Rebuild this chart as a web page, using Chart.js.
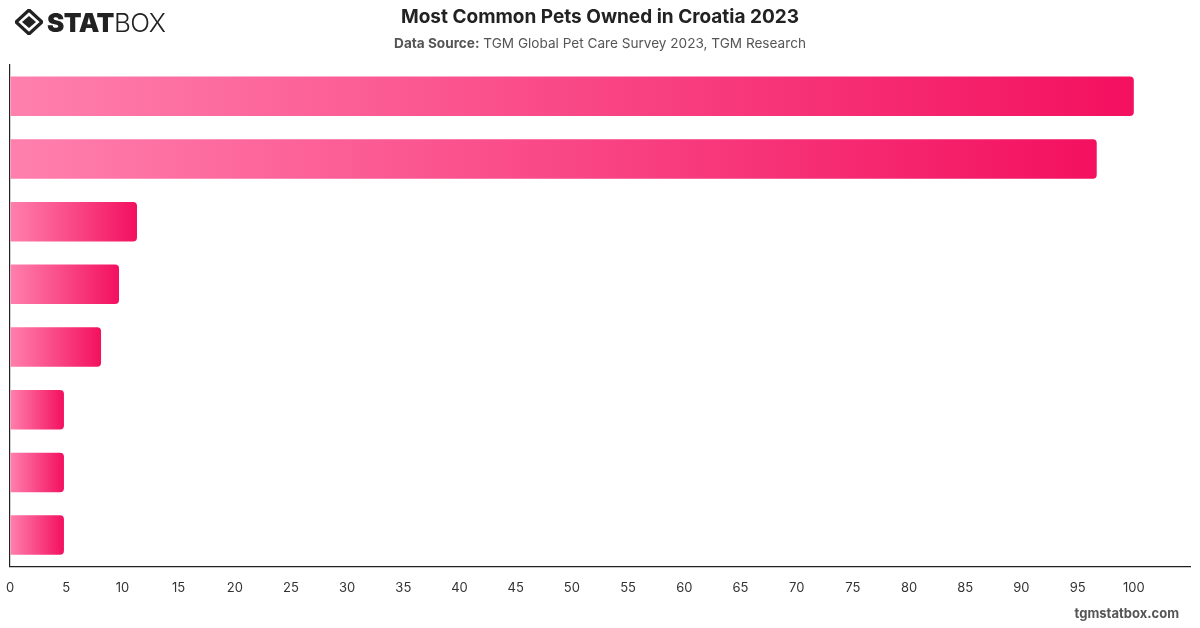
<!DOCTYPE html>
<html>
<head>
<meta charset="utf-8">
<script src="https://cdn.jsdelivr.net/npm/chart.js@4.4.0/dist/chart.umd.min.js"></script>
<style>
  body { margin: 0; width: 1200px; height: 628px; background: #fff; font-family: Inter, "Liberation Sans", sans-serif; overflow: hidden; }
  #wrap { position: absolute; left: 0; top: 0; width: 1200px; height: 628px; }
  .title { position: absolute; top: 5px; left: 0; width: 1200px; text-align: center; font-size: 19px; font-weight: 700; color: #222; }
  .sub { position: absolute; top: 35px; left: 0; width: 1200px; text-align: center; font-size: 13.6px; color: #555; }
  .sub b { color: #555; }
  .logo { position: absolute; left: 15px; top: 7px; height: 30px; display: flex; align-items: center; }
  .logo .t1 { font-size: 26px; font-weight: 900; color: #222; letter-spacing: -0.5px; margin-left: 4px; }
  .logo .t2 { font-size: 26px; font-weight: 300; color: #222; letter-spacing: -0.5px; }
  .foot { position: absolute; right: 21px; top: 605px; font-size: 13px; font-weight: 700; color: #555; }
</style>
</head>
<body>
<div id="wrap"><canvas id="chart" width="1200" height="628"></canvas></div>
<div class="logo">
  <svg width="28" height="26" viewBox="0 0 28 26">
    <polygon points="14,1 27,13 14,25 1,13" fill="none" stroke="#222" stroke-width="3.2"/>
    <polygon points="14,7 21,13 14,19 7,13" fill="#222"/>
  </svg>
  <span class="t1">STAT</span><span class="t2">BOX</span>
</div>
<div class="title">Most Common Pets Owned in Croatia 2023</div>
<div class="sub"><b>Data Source:</b> TGM Global Pet Care Survey 2023, TGM Research</div>
<div class="foot">tgmstatbox.com</div>
<script>
// values (category labels are not shown in it)
let pets = ['Dog', 'Cat', 'Fish', 'Bird', 'Rabbit', 'Hamster', 'Turtle', 'Other'];
let shares = [100, 96.7, 11.3, 9.7, 8.1, 4.8, 4.8, 4.8];
let xTicksMax = 100;

function barGradient(context) {
  var chart = context.chart;
  var xs = chart.scales.x;
  if (!xs || !chart.chartArea) {
    return '#f7438a';
  }
  var x0 = xs.getPixelForValue(0);
  var x1 = xs.getPixelForValue(context.raw);
  if (!isFinite(x1) || x1 - x0 < 1) {
    return '#f7438a';
  }
  var g = chart.ctx.createLinearGradient(x0, 0, x1, 0);
  g.addColorStop(0, '#ff80ad');
  g.addColorStop(1, '#f3105f');
  return g;
}

var ctx = document.getElementById('chart').getContext('2d');
var myChart = new Chart(ctx, {
  type: 'bar',
  data: {
    labels: pets,
    datasets: [{
      data: shares,
      backgroundColor: barGradient,
      borderRadius: 4,
      borderSkipped: 'start',
      categoryPercentage: 0.7,
      barPercentage: 0.9
    }]
  },
  options: {
    indexAxis: 'y',
    responsive: false,
    animation: false,
    layout: { padding: { top: 65, left: 10, right: 10, bottom: 29 } },
    plugins: { legend: { display: false }, tooltip: { enabled: false } },
    scales: {
      x: {
        min: 0,
        max: 105,
        grid: { display: true, color: 'rgba(0,0,0,0)', drawTicks: true, tickLength: 11, tickColor: 'rgba(0,0,0,0)' },
        border: { display: true, color: '#222', width: 1.2 },
        ticks: {
          stepSize: 5,
          padding: 3,
          color: '#333',
          font: { family: 'Inter', size: 13 },
          callback: function(v) { return v > xTicksMax ? '' : v; }
        }
      },
      y: {
        grid: { display: true, color: 'rgba(0,0,0,0)', drawTicks: false },
        border: { display: true, color: '#222', width: 1.2 },
        ticks: { display: false }
      }
    }
  }
});
</script>
</body>
</html>
